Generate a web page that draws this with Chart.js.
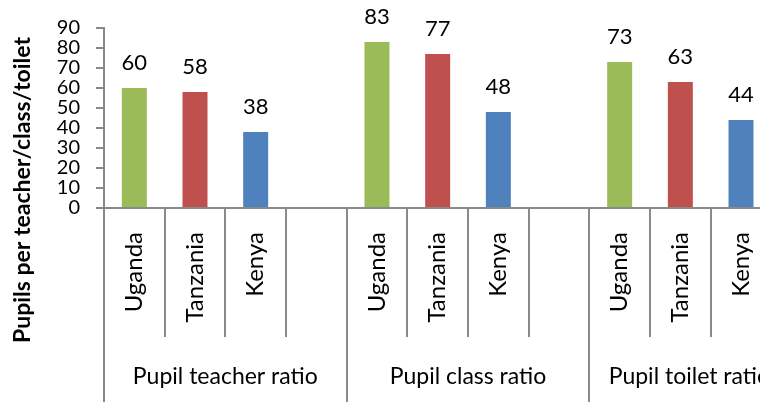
<!DOCTYPE html>
<html>
<head>
<meta charset="utf-8">
<script src="https://cdn.jsdelivr.net/npm/chart.js@4"></script>
<style>
  html, body { margin: 0; padding: 0; background: #fff; overflow: hidden; width: 760px; height: 402px; }
  #wrap { position: absolute; left: 0; top: 0; width: 840px; height: 402px; }
</style>
</head>
<body>
<div id="wrap"><canvas id="c"></canvas></div>
<script>
// ---- data ----
const countries = ['Uganda', 'Tanzania', 'Kenya'];
const groups = ['Pupil teacher ratio', 'Pupil class ratio', 'Pupil toilet ratio'];
const uganda = [60, 83, 73];
const tanzania = [58, 77, 63];
const kenya = [38, 48, 44];
const yTicks = [0, 10, 20, 30, 40, 50, 60, 70, 80, 90];
const yTitle = 'Pupils per teacher/class/toilet';

// ---- build slots: 3 countries + one empty slot per group ----
const seriesByCountry = [uganda, tanzania, kenya];
const countryColors = ['#9BBB59', '#C0504D', '#4F81BD'];
const labels = [], values = [], colors = [];
groups.forEach((g, gi) => {
  countries.forEach((c, ci) => {
    labels.push(c);
    values.push(seriesByCountry[ci][gi]);
    colors.push(countryColors[ci]);
  });
  labels.push('');
  values.push(null);
  colors.push('#ffffff');
});

const FONT = 'Lato, "Open Sans", sans-serif';
const GRAY = '#898989';

const decor = {
  id: 'decor',
  afterDatasetsDraw(chart) {
    const ctx = chart.ctx;
    const meta = chart.getDatasetMeta(0);
    ctx.save();
    ctx.fillStyle = '#000';
    ctx.font = '22px ' + FONT;
    ctx.textAlign = 'center';
    ctx.textBaseline = 'alphabetic';
    meta.data.forEach((el, i) => {
      const v = values[i];
      if (v === null || v === undefined) return;
      ctx.fillText(String(v), el.x, el.y - 18);
    });
    ctx.restore();
  },
  afterDraw(chart) {
    const ctx = chart.ctx;
    const x2 = chart.scales.x2;
    ctx.save();
    ctx.fillStyle = '#000';
    ctx.font = '23px ' + FONT;
    ctx.textAlign = 'center';
    ctx.textBaseline = 'alphabetic';
    groups.forEach((g, i) => {
      const w = ctx.measureText(g).width;
      let cx = x2.getPixelForValue(i);
      cx = Math.min(cx, 770 - w / 2);
      ctx.fillText(g, cx, 384);
    });
    ctx.restore();
    ctx.save();
    ctx.fillStyle = '#000';
    ctx.font = 'bold 23px ' + FONT;
    ctx.textAlign = 'center';
    ctx.textBaseline = 'middle';
    ctx.translate(23, 190);
    ctx.rotate(-Math.PI / 2);
    ctx.fillText(yTitle, 0, 0);
    ctx.restore();
  }
};

new Chart(document.getElementById('c'), {
  type: 'bar',
  data: {
    labels: labels,
    datasets: [{
      data: values,
      backgroundColor: colors,
      borderWidth: 0,
      barPercentage: 0.412,
      categoryPercentage: 1.0
    }]
  },
  options: {
    responsive: true,
    maintainAspectRatio: false,
    animation: false,
    events: [],
    layout: { padding: { left: 0, top: 28, right: 8, bottom: 0 } },
    plugins: { legend: { display: false }, tooltip: { enabled: false }, title: { display: false } },
    scales: {
      y: {
        min: 0, max: 90,
        afterBuildTicks: s => { s.ticks = yTicks.map(v => ({ value: v })); },
        afterFit: s => { s.width = 104; },
        grid: { drawOnChartArea: false, tickLength: 8, color: GRAY, lineWidth: 2 },
        border: { color: GRAY, width: 2 },
        ticks: { autoSkip: false, padding: 16, color: '#000', font: { family: FONT, size: 20 } }
      },
      x: {
        type: 'category',
        position: 'bottom',
        weight: 0,
        offset: true,
        afterFit: s => { s.height = 129; },
        grid: { offset: true, drawOnChartArea: false, tickLength: 129, color: GRAY, lineWidth: 2 },
        border: { color: GRAY, width: 2 },
        ticks: {
          autoSkip: false, minRotation: 90, maxRotation: 90,
          padding: -105, color: '#000', font: { family: FONT, size: 24 }
        }
      },
      x2: {
        type: 'category',
        position: 'bottom',
        weight: 1,
        labels: groups,
        offset: true,
        afterFit: s => { s.height = 65; },
        grid: { offset: true, drawOnChartArea: false, tickLength: 65, color: GRAY, lineWidth: 2 },
        border: { display: false },
        ticks: { display: false }
      }
    }
  },
  plugins: [decor]
});
</script>
</body>
</html>
